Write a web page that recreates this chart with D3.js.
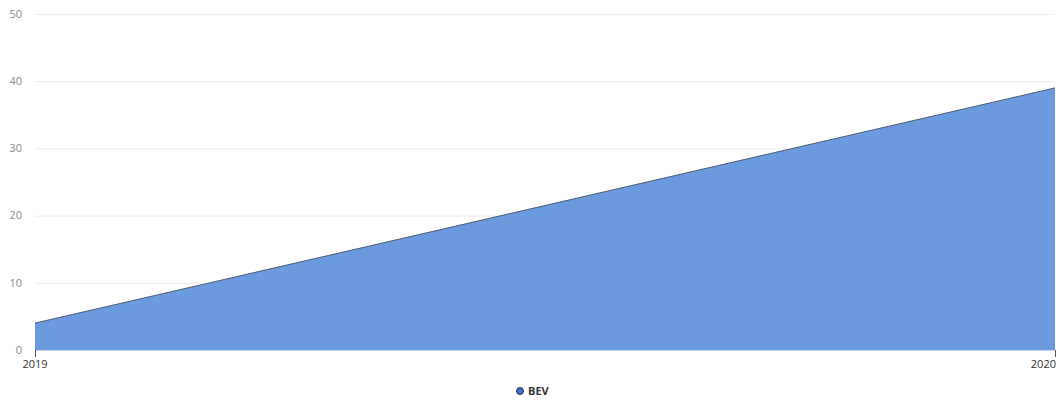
<!DOCTYPE html>
<html>
<head>
<meta charset="utf-8">
<script src="https://cdn.jsdelivr.net/npm/d3@7/dist/d3.min.js"></script>
<style>
  html, body { margin: 0; padding: 0; background: #fff; }
  svg { display: block; font-family: "Open Sans", "Noto Sans", sans-serif; }
</style>
</head>
<body>
<svg id="chart" width="1060" height="400"></svg>
<script>
// Battery-electric vehicle series
const years = ["2019", "2020"];
const bevValues = [4, 39];
const yTicks = [0, 10, 20, 30, 40, 50];
const seriesName = "BEV";

const svg = d3.select("#chart");
const margin = { top: 14, right: 5, bottom: 50, left: 35 };
const width = 1060, height = 400;

const x = d3.scalePoint()
  .domain(years)
  .range([margin.left, width - margin.right]);

const y = d3.scaleLinear()
  .domain([0, 50])
  .range([height - margin.bottom, margin.top]);

// horizontal grid lines
svg.append("g")
  .selectAll("line")
  .data(yTicks)
  .join("line")
  .attr("x1", margin.left)
  .attr("x2", width - margin.right)
  .attr("y1", d => y(d) + 0.5)
  .attr("y2", d => y(d) + 0.5)
  .attr("stroke", "#ebebeb")
  .attr("stroke-width", 1);

// y-axis labels
svg.append("g")
  .selectAll("text")
  .data(yTicks)
  .join("text")
  .attr("x", 22)
  .attr("y", d => y(d))
  .attr("dy", "0.35em")
  .attr("text-anchor", "end")
  .attr("fill", "#8a8a8a")
  .attr("font-size", 11)
  .text(d => d);

const data = years.map((yr, i) => ({ year: yr, value: bevValues[i] }));

// area fill
const area = d3.area()
  .x(d => x(d.year))
  .y0(y(0))
  .y1(d => y(d.value));

svg.append("path")
  .datum(data)
  .attr("d", area)
  .attr("fill", "#6c9ade");

// top edge line
const line = d3.line()
  .x(d => x(d.year))
  .y(d => y(d.value));

svg.append("path")
  .datum(data)
  .attr("d", line)
  .attr("fill", "none")
  .attr("stroke", "#4d5a6e")
  .attr("stroke-width", 1);

// baseline
svg.append("line")
  .attr("x1", margin.left)
  .attr("x2", width - margin.right)
  .attr("y1", y(0) + 0.5)
  .attr("y2", y(0) + 0.5)
  .attr("stroke", "#ccd6eb")
  .attr("stroke-width", 1);

// x-axis ticks and labels
const xg = svg.append("g");
xg.selectAll("line")
  .data(years)
  .join("line")
  .attr("x1", d => Math.round(x(d)) + 0.5)
  .attr("x2", d => Math.round(x(d)) + 0.5)
  .attr("y1", y(0))
  .attr("y2", y(0) + 7)
  .attr("stroke", "#555")
  .attr("stroke-width", 1);

xg.selectAll("text")
  .data(years)
  .join("text")
  .attr("x", (d, i) => i === years.length - 1 ? x(d) + 1 : x(d))
  .attr("y", y(0) + 18)
  .attr("text-anchor", (d, i) => i === years.length - 1 ? "end" : "middle")
  .attr("fill", "#333")
  .attr("font-size", 11)
  .text(d => d);

// legend
const legend = svg.append("g").attr("transform", "translate(520,391)");
legend.append("circle")
  .attr("r", 3.5)
  .attr("fill", "#3d74d6")
  .attr("stroke", "#333")
  .attr("stroke-width", 1);
legend.append("text")
  .attr("x", 8)
  .attr("dy", "0.35em")
  .attr("fill", "#333")
  .attr("font-size", 11)
  .attr("font-weight", "bold")
  .text(seriesName);
</script>
</body>
</html>
